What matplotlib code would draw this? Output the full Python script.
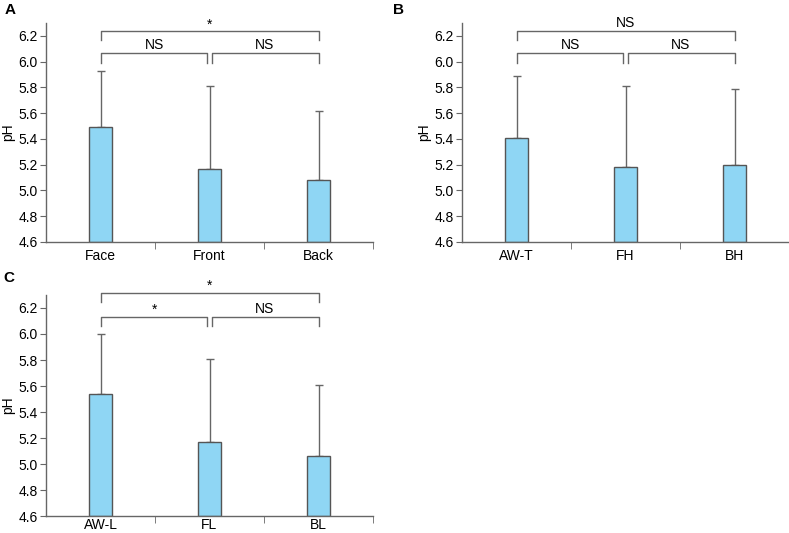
import matplotlib.pyplot as plt
import numpy as np

plt.rcParams['font.family'] = ['Liberation Sans', 'DejaVu Sans']

# ---------------- data ----------------
labels_a = ['Face', 'Front', 'Back']
mean_a = [5.49, 5.17, 5.08]
err_top_a = [5.93, 5.81, 5.62]
sig_a = ['NS', 'NS', '*']          # (0-1), (1-2), (0-2)

labels_b = ['AW-T', 'FH', 'BH']
mean_b = [5.41, 5.18, 5.20]
err_top_b = [5.89, 5.81, 5.79]
sig_b = ['NS', 'NS', 'NS']

labels_c = ['AW-L', 'FL', 'BL']
mean_c = [5.54, 5.17, 5.06]
err_top_c = [6.00, 5.81, 5.61]
sig_c = ['*', 'NS', '*']

bar_col = '#8fd6f4'
edge_col = '#555555'
line_col = '#666666'

W, H = 789, 533
fig = plt.figure(figsize=(W / 100, H / 100), dpi=100)


def px_axes(l, t, r, b):
    return fig.add_axes([l / W, 1 - b / H, (r - l) / W, (b - t) / H])


def panel(ax, labels, mean, err_top, sig, lo_y, lo_drop, hi_y, hi_drop, lo_txt, hi_txt, xpad=5):
    x = np.arange(len(labels))
    mean = np.array(mean)
    up = np.array(err_top) - mean
    ax.bar(x, mean - 4.6, bottom=4.6, width=0.22, color=bar_col,
           edgecolor=edge_col, linewidth=1.0, zorder=2)
    ax.errorbar(x, mean, yerr=[np.zeros_like(up), up], fmt='none',
                ecolor=line_col, elinewidth=1.0, capsize=3, capthick=1.0, zorder=1)
    ax.set_xlim(-0.5, 2.5)
    ax.set_ylim(4.6, 6.3)
    ax.set_yticks(np.arange(4.6, 6.21, 0.2))
    ax.set_yticklabels(['%.1f' % v for v in np.arange(4.6, 6.21, 0.2)])
    ax.set_xticks(x)
    ax.set_xticklabels(labels)
    ax.set_xticks([0.5, 1.5, 2.5], minor=True)
    ax.tick_params(axis='x', which='major', length=0, labelsize=10, pad=xpad)
    ax.tick_params(axis='x', which='minor', length=5, direction='out', color=line_col)
    ax.tick_params(axis='y', length=4, direction='out', color=line_col, labelsize=10, pad=2)
    for s in ['top', 'right']:
        ax.spines[s].set_visible(False)
    for s in ['left', 'bottom']:
        ax.spines[s].set_color(line_col)
        ax.spines[s].set_linewidth(1.0)
    ax.set_ylabel('pH', fontsize=10, labelpad=2)

    kw = dict(color=line_col, lw=1.0, clip_on=False)
    # lower brackets
    ax.plot([0, 0, 0.98, 0.98], [lo_drop, lo_y, lo_y, lo_drop], **kw)
    ax.plot([1.02, 1.02, 2, 2], [lo_drop, lo_y, lo_y, lo_drop], **kw)
    # top bracket
    ax.plot([0, 0, 2, 2], [hi_drop, hi_y, hi_y, hi_drop], **kw)
    ax.text(0.5, lo_txt, sig[0], ha='center', va='center', fontsize=10)
    ax.text(1.5, lo_txt, sig[1], ha='center', va='center', fontsize=10)
    ax.text(1.0, hi_txt, sig[2], ha='center', va='center', fontsize=10)


ax_a = px_axes(46, 23, 373, 242)
panel(ax_a, labels_a, mean_a, err_top_a, sig_a, 6.067, 5.99, 6.24, 6.17, 6.13, 6.285)
ax_b = px_axes(462, 23, 789, 242)
panel(ax_b, labels_b, mean_b, err_top_b, sig_b, 6.067, 5.99, 6.24, 6.17, 6.13, 6.30)
ax_c = px_axes(46, 295, 373, 516)
panel(ax_c, labels_c, mean_c, err_top_c, sig_c, 6.13, 6.06, 6.316, 6.246, 6.19, 6.37, xpad=1.5)

fig.text(5 / W, 1 - 10 / H, 'A', fontsize=11, fontweight='bold', va='center')
fig.text(393 / W, 1 - 10 / H, 'B', fontsize=11, fontweight='bold', va='center')
fig.text(3 / W, 1 - 278 / H, 'C', fontsize=11, fontweight='bold', va='center')

fig.savefig('out.png', dpi=100)
